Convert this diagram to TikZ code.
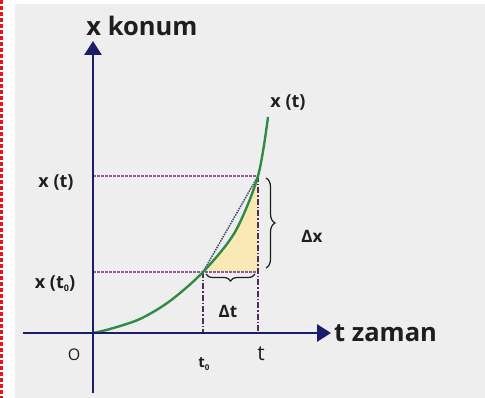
\documentclass[tikz,border=0pt]{standalone}
\usepackage{fontspec}
\setmainfont{Open Sans}
\usetikzlibrary{arrows.meta,decorations.pathreplacing}
\definecolor{bggray}{HTML}{EEEEEE}
\definecolor{txt}{HTML}{1E1E1E}
\definecolor{axisblue}{HTML}{1C1C6A}
\definecolor{hguidecol}{HTML}{8E5C96}
\definecolor{vguidecol}{HTML}{4E2E58}
\definecolor{curvegreen}{HTML}{2E8B45}
\definecolor{secant}{HTML}{3E4E68}
\definecolor{fillyellow}{HTML}{FBE9B5}
\definecolor{borderred}{HTML}{E8141C}
\begin{document}
\begin{tikzpicture}[x=1pt,y=-1pt,
  lbl/.style={font=\bfseries\fontsize{18}{18}\selectfont, text=txt, inner sep=0pt},
  reg/.style={font=\fontsize{16}{16}\selectfont, text=txt, inner sep=0pt},
  big/.style={font=\bfseries\fontsize{25.5}{25.5}\selectfont, text=txt, inner sep=0pt},
  axis/.style={line width=2.8pt, draw=axisblue, -{Triangle[length=14pt,width=17pt]}},
  hguide/.style={draw=hguidecol, line width=1.2pt, dash pattern=on 2.5pt off 1.5pt},
  vguide/.style={draw=vguidecol, line width=1.1pt, dash pattern=on 6pt off 2pt on 1.5pt off 2pt},
  bracestyle/.style={draw=txt, line width=1.2pt, decorate}]
\useasboundingbox (0,0) rectangle (485,398);
\fill[bggray] (15,4) rectangle (485,398);
\draw[borderred, line width=2.2pt, dash pattern=on 4pt off 2pt] (1.5,0) -- (1.5,398);

% key points
\coordinate (O) at (93,333);
\coordinate (P0) at (203,272);
\coordinate (P1) at (258,176);
\coordinate (Ytop) at (93,176);
\coordinate (Ylow) at (93,272);
\coordinate (T0) at (203,333);
\coordinate (T1) at (258,333);
\coordinate (Cor) at (258,272);
\coordinate (ybot) at (93,393);
\coordinate (ytip) at (93,41);
\coordinate (xleft) at (23,333);
\coordinate (xtip) at (331,333);

% yellow region
\begin{scope}
  \clip (203,176) rectangle (258,272);
  \fill[fillyellow] plot[smooth] coordinates {(93,333) (110,329) (140,319) (170,301) (203,272) (235,232) (258,176) (268,117)} -- (300,117) -- (300,333) -- cycle;
\end{scope}

% guide lines
\draw[hguide] (Ytop) -- (P1);
\draw[hguide] (Ylow) -- (Cor);
\draw[vguide] (P1) -- (T1);
\draw[vguide] (P0) -- (T0);

% secant
\draw[secant, line width=1.5pt, densely dotted] (P0) -- (P1);

% curve
\draw[curvegreen, line width=2.4pt] plot[smooth] coordinates {(93,333) (110,329) (140,319) (170,301) (203,272) (235,232) (258,176) (268,117)};

% axes
\draw[axis] (ybot) -- (ytip);
\draw[axis] (xleft) -- (xtip);

% braces
\draw[bracestyle, decoration={brace, amplitude=9pt}] (266,178) -- (266,268) coordinate[midway] (bxm);
\draw[bracestyle, decoration={brace, amplitude=7pt}] (255,274) -- (206,274) coordinate[midway] (btm);

% labels
\node[big] (ylab) at (142,26) {x konum};
\node[big, anchor=west] (xlab) at (334,333) {t zaman};
\node[lbl] (lxt) at (56,183) {x (t)};
\node[lbl] (lxt0) at (55,284) {x (t\raisebox{-3pt}{\fontsize{9}{9}\selectfont 0})};
\node[lbl] (cxt) at (288,103) {x (t)};
\node[lbl, font=\bfseries\fontsize{17}{17}\selectfont] (dx) at (312,236) {Δx};
\node[lbl, font=\bfseries\fontsize{17}{17}\selectfont] (dt) at (228,311) {Δt};
\node[reg] (olab) at (74,355) {O};
\node[reg, font=\fontsize{21}{21}\selectfont] (tlab) at (261,354) {t};
\node[lbl, font=\bfseries\fontsize{15}{15}\selectfont] (t0lab) at (204,364) {t\raisebox{-3pt}{\fontsize{8}{8}\selectfont 0}};
\end{tikzpicture}
\end{document}
